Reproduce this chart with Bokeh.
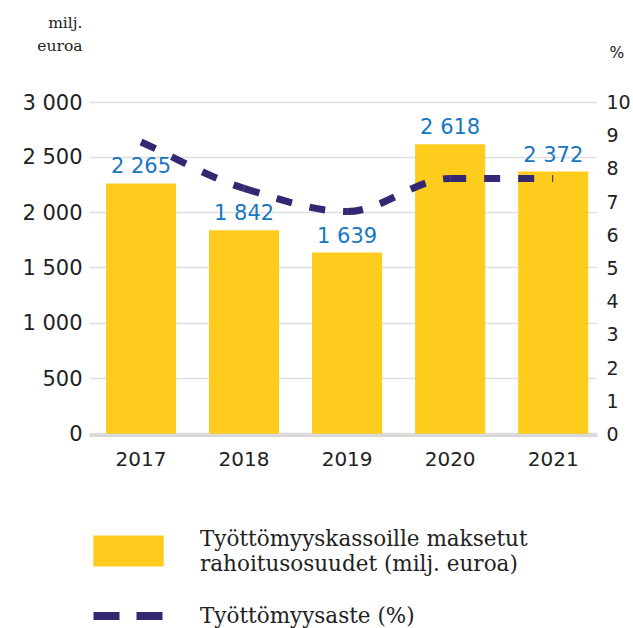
from bokeh.plotting import figure
from bokeh.layouts import column
from bokeh.models import (Range1d, LinearAxis, FixedTicker, Legend, LegendItem)
from bokeh.core.properties import value
from bokeh.embed import file_html
from bokeh.resources import INLINE

# ---- data ----
years = ["2017", "2018", "2019", "2020", "2021"]
funding = [2265, 1842, 1639, 2618, 2372]          # milj. euroa
unemployment = [8.8, 7.4, 6.7, 7.7, 7.7]          # %
left_ticks = [0, 500, 1000, 1500, 2000, 2500, 3000]
left_tick_labels = ["0", "500", "1 000", "1 500", "2 000", "2 500", "3 000"]
right_ticks = [0, 1, 2, 3, 4, 5, 6, 7, 8, 9, 10]
right_tick_labels = ["0", "1", "2", "3", "4", "5", "6", "7", "8", "9", "10"]
bar_labels = ["2 265", "1 842", "1 639", "2 618", "2 372"]
legend_labels = ["Työttömyyskassoille maksetut\nrahoitusosuudet (milj. euroa)",
                 "Työttömyysaste (%)"]
unit_left = ["milj.", "euroa"]
unit_right = ["%"]

BAR = "#FDCC1C"
BLUE = "#1777C0"
LINE = "#352873"
TXT = "#222222"
NUM_FONT = "DejaVu Sans"
SERIF = "DejaVu Serif"

W = 633
TOP_H = 90
MAIN_H = 390
LEG_H = 628 - TOP_H - MAIN_H
BL, BR = 89, 36   # shared left/right borders (frame edges)


def bare_axis(axis):
    axis.axis_line_color = None
    axis.major_tick_line_color = None
    axis.minor_tick_line_color = None
    axis.major_tick_out = 0
    axis.major_tick_in = 0
    return axis


# ---- header strip: unit captions carried by axes of the strip ----
UNIT_POS_LEFT = [22.5, 45]    # strip pixel rows of the captions
UNIT_POS_RIGHT = [52.5]
top = figure(width=W, height=TOP_H, output_backend="svg", toolbar_location=None,
             x_range=Range1d(0, 1), y_range=Range1d(TOP_H, 0),
             x_axis_location=None, y_axis_location=None,
             min_border_left=BL, min_border_right=BR, min_border_top=0,
             min_border_bottom=0)
top.outline_line_color = None
top.grid.visible = False
ul = bare_axis(LinearAxis(ticker=FixedTicker(ticks=UNIT_POS_LEFT)))
ul.major_label_overrides = {t: s for t, s in zip(UNIT_POS_LEFT, unit_left)}
ul.major_label_standoff = 7
ul.major_label_text_font = SERIF
ul.major_label_text_font_size = "15.5px"
ul.major_label_text_color = TXT
top.add_layout(ul, "left")
ur = bare_axis(LinearAxis(ticker=FixedTicker(ticks=UNIT_POS_RIGHT)))
ur.major_label_overrides = {t: s for t, s in zip(UNIT_POS_RIGHT, unit_right)}
ur.major_label_standoff = 12
ur.major_label_text_font = NUM_FONT
ur.major_label_text_font_size = "15.5px"
ur.major_label_text_color = TXT
top.add_layout(ur, "right")

# ---- main chart ----
xs = list(range(len(years)))

p = figure(width=W, height=MAIN_H, output_backend="svg", toolbar_location=None,
           x_range=Range1d(-0.5, 4.43), y_range=Range1d(-15, 3060),
           min_border_left=BL, min_border_right=BR, min_border_top=5,
           min_border_bottom=45)
p.extra_y_ranges = {"pct": Range1d(-0.05, 10.2)}
p.outline_line_color = None
p.background_fill_color = "white"
p.border_fill_color = "white"

bars = p.vbar(x=xs, top=funding, bottom=0, width=0.68, fill_color=BAR, line_color=None)

p.text(x=xs, y=funding, text=bar_labels, text_align="center", text_baseline="alphabetic",
       y_offset=-17, text_font=value(NUM_FONT), text_font_size="21px", text_color=BLUE)

# smooth (monotone cubic) unemployment line drawn as bezier segments
n = len(xs)
d = [(unemployment[i + 1] - unemployment[i]) / (xs[i + 1] - xs[i]) for i in range(n - 1)]
m = [0.0] * n
m[0] = d[0]
m[-1] = d[-1]
for i in range(1, n - 1):
    if d[i - 1] * d[i] <= 0:
        m[i] = 0.0
    else:
        m[i] = 2 * d[i - 1] * d[i] / (d[i - 1] + d[i])
p.bezier(x0=xs[:-1], y0=unemployment[:-1], x1=xs[1:], y1=unemployment[1:],
         cx0=[xs[i] + 1 / 3 for i in range(n - 1)],
         cy0=[unemployment[i] + m[i] / 3 for i in range(n - 1)],
         cx1=[xs[i + 1] - 1 / 3 for i in range(n - 1)],
         cy1=[unemployment[i + 1] - m[i + 1] / 3 for i in range(n - 1)],
         line_color=LINE, line_width=7, line_dash="16 18", y_range_name="pct")

# axes
p.xaxis.ticker = FixedTicker(ticks=xs)
p.xaxis.major_label_overrides = {i: y for i, y in zip(xs, years)}
p.xaxis.axis_line_color = "#D9D9D9"
p.xaxis.axis_line_width = 3
p.xaxis.major_tick_line_color = None
p.xaxis.minor_tick_line_color = None
p.xaxis.major_tick_out = 0
p.xaxis.major_label_standoff = 16
p.xaxis.major_label_text_font = NUM_FONT
p.xaxis.major_label_text_font_size = "20px"
p.xaxis.major_label_text_color = TXT

p.yaxis.ticker = FixedTicker(ticks=left_ticks)
p.yaxis.major_label_overrides = {t: s for t, s in zip(left_ticks, left_tick_labels)}
bare_axis(p.yaxis[0])
p.yaxis.major_label_standoff = 7
p.yaxis.major_label_text_font = NUM_FONT
p.yaxis.major_label_text_font_size = "21px"
p.yaxis.major_label_text_color = TXT

raxis = bare_axis(LinearAxis(y_range_name="pct", ticker=FixedTicker(ticks=right_ticks)))
raxis.major_label_overrides = {t: s for t, s in zip(right_ticks, right_tick_labels)}
raxis.major_label_standoff = 9
raxis.major_label_text_font = NUM_FONT
raxis.major_label_text_font_size = "19px"
raxis.major_label_text_color = TXT
p.add_layout(raxis, "right")

p.xgrid.grid_line_color = None
p.ygrid.ticker = FixedTicker(ticks=left_ticks)
p.ygrid.grid_line_color = "#DEDEDE"
p.ygrid.grid_line_width = 1.5

# ---- legend strip ----
lf = figure(width=W, height=LEG_H, output_backend="svg", toolbar_location=None,
            x_range=Range1d(0, 1), y_range=Range1d(0, 1),
            x_axis_location=None, y_axis_location=None,
            min_border_left=BL, min_border_right=BR, min_border_top=30,
            min_border_bottom=0)
lf.outline_line_color = None
lf.grid.visible = False
# legend keys (zero-size glyphs, only their styles are shown in the legend)
key_bar = lf.vbar(x=[0], top=[0], bottom=[0], width=0, fill_color=BAR, line_color=None)
key_line = lf.line(x=[0, 0], y=[0, 0], line_color=LINE, line_width=8, line_dash="26 17",
                   line_dash_offset=34)
legend = Legend(items=[LegendItem(label=legend_labels[0], renderers=[key_bar]),
                       LegendItem(label=legend_labels[1], renderers=[key_line])],
                location=(-5, -6.5), orientation="vertical",
                glyph_width=88, glyph_height=39, label_standoff=28,
                padding=0, spacing=20, margin=0,
                label_text_font=SERIF, label_text_font_size="21.5px",
                label_text_color=TXT, label_text_line_height=1.29,
                border_line_color=None, background_fill_alpha=0)
lf.add_layout(legend, "center")

layout = column(top, p, lf, spacing=0)
open("out.html", "w").write(file_html(layout, INLINE))
